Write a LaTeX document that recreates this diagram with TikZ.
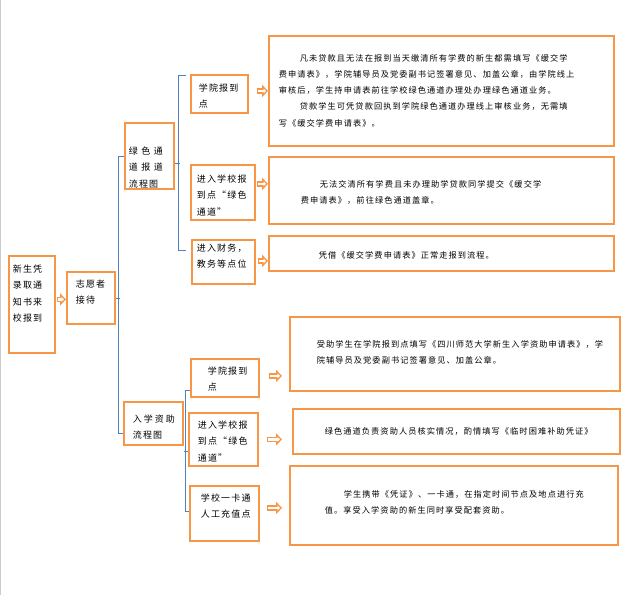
\documentclass[tikz,border=0pt]{standalone}
\usepackage{fontspec}
\newfontfamily\cjk[LetterSpace=13]{Noto Sans CJK SC}
\usetikzlibrary{arrows.meta}
\definecolor{boxorange}{HTML}{F79646}
\definecolor{linkblue}{HTML}{4F81BD}
\newcommand{\wgap}[1][3.5pt]{\kern#1}
\tikzset{
  box/.style={draw=boxorange, line width=1.8pt, anchor=north west, align=left, inner ysep=0pt},
  tag/.style={box, font=\cjk\fontsize{9}{16.5}\selectfont},
  note/.style={box, font=\cjk\fontsize{8.2}{16.3}\selectfont},
  fatout/.style={draw=boxorange, line width=5.6pt, -{Triangle[length=6pt, width=12.5pt, line width=0pt]}},
  fatin/.style={draw=white, line width=2.6pt, shorten <=1.4pt, shorten >=2pt, -{Triangle[length=2.4pt, width=5pt, line width=0pt]}},
  bracket/.style={draw=linkblue, line width=0.8pt}
}
\begin{document}
\begin{tikzpicture}[x=1pt, y=-1pt]
    \useasboundingbox (0,0) rectangle (630,595);
    \draw[gray!40, line width=1pt] (0.5,0) -- (0.5,595);

    % 左侧
    \node[tag, inner xsep=4pt, text width=38pt, text height=16.4pt, text depth=80.6pt] (reg) at (8,255) {新生凭\\录取通\\知书来\\校报到};
    \node[tag, inner xsep=9pt, text width=30pt, text height=15.4pt, text depth=36.6pt] (recv) at (66,271) {志愿者\\接待};

    % 两条流程
    \node[tag, inner xsep=4pt, text width=41pt, text height=31.4pt, text depth=34.6pt] (green) at (124,122) {绿\wgap 色\wgap 通\\道\wgap 报\wgap 道\\流程图};
    \node[tag, inner xsep=9pt, text width=41pt, text height=20.4pt, text depth=22.6pt] (aid) at (123,401) {入\wgap[2pt]学\wgap[2pt]资\wgap[2pt]助\\流程图};
    \draw[bracket] (recv.east) -- ++(4,0);
    \draw[bracket] (green.west) -- ++(-6,0) |- ([yshift=-10pt]aid.west);

    % 绿色通道报道流程
    \node[tag, inner xsep=8pt, text width=41pt, text height=16.4pt, text depth=21.6pt] (g1) at (190,74) {学院报到\\点};
    \node[tag, inner xsep=6pt, text width=52pt, text height=17.4pt, text depth=37.6pt] (g2) at (190,164) {进入学校报\\到点“绿色\\通道”};
    \node[tag, inner xsep=5pt, text width=53pt, text height=11.4pt, text depth=32.6pt] (g3) at (191,239) {进入财务，\\教务等点位};
    \draw[bracket] ([yshift=-7pt]green.east) -- ++(5,0);
    \draw[bracket] ([xshift=-4pt, yshift=-1pt]g1.north west) -- ++(-8,0) |- ([xshift=-5pt, yshift=-11pt]g3.north west);

    \node[note, inner xsep=10pt, text width=325pt, text height=25.1pt, text depth=84.9pt] (dA) at (268,35)
        {\hspace*{21pt}凡未贷款且无法在报到当天缴清所有学费的新生都需填写《缓交学\\
         费申请表》，学院辅导员及党委副书记签署意见、加盖公章，由学院线上\\
         审核后，学生持申请表前往学校绿色通道办理处办理绿色通道业务。\\
         \hspace*{21pt}贷款学生可凭贷款回执到学院绿色通道办理线上审核业务，无需填\\
         写《缓交学费申请表》。};
    \node[note, inner xsep=32pt, text width=281pt, text height=30.1pt, text depth=36.9pt] (dB) at (268,156)
        {\hspace*{19pt}无法交清所有学费且未办理助学贷款同学提交《缓交学\\
         费申请表》，前往绿色通道盖章。};
    \node[note, inner xsep=50pt, text width=245pt, text height=22.1pt, text depth=12.9pt] (dC) at (268,235)
        {凭借《缓交学费申请表》正常走报到流程。};

    % 入学资助流程
    \node[tag, inner xsep=17pt, text width=34pt, text height=15.4pt, text depth=22.6pt] (a1) at (190,358) {学院报到\\点};
    \node[tag, inner xsep=9pt, text width=51pt, text height=15.4pt, text depth=37.6pt] (a2) at (188,412) {进入学校报\\到点“绿色\\通道”};
    \node[tag, inner xsep=11pt, text width=47pt, text height=15.4pt, text depth=39.6pt] (a3) at (189,485) {学校一卡通\\人工充值点};
    \draw[bracket] ([yshift=-6pt]aid.south east) -- ++(4,0);
    \draw[bracket] ([yshift=7pt]a1.south west) -- ++(-5,0) |- ([yshift=-26pt]a3.north west);

    \node[note, inner xsep=27pt, text width=276pt, text height=30.1pt, text depth=43.9pt] (dD) at (289,316)
        {受助学生在学院报到点填写《四川师范大学新生入学资助申请表》，学\\
         院辅导员及党委副书记签署意见、加盖公章。};
    \node[note, inner xsep=32pt, text width=263pt, text height=25.1pt, text depth=19.9pt] (dE) at (292,408)
        {绿色通道负责资助人员核实情况，酌情填写《临时困难补助凭证》};
    \node[note, inner xsep=35pt, text width=258pt, text height=31.1pt, text depth=47.9pt] (dF) at (289,465)
        {\hspace*{19pt}学生携带《凭证》、一卡通，在指定时间节点及地点进行充\\
         值。享受入学资助的新生同时享受配套资助。};

    % 空心箭头
    \coordinate (r1) at ([xshift=1pt, yshift=5pt]reg.east);
    \coordinate (r2) at (r1 -| recv.west);
    \coordinate (s1) at ([xshift=8pt, yshift=3pt]g1.east);
    \coordinate (e1) at (s1 -| dA.west);
    \coordinate (s2) at ([xshift=1pt, yshift=8.5pt]g2.east);
    \coordinate (e2) at (s2 -| dB.west);
    \coordinate (s3) at ([xshift=2pt, yshift=1pt]g3.east);
    \coordinate (e3) at (s3 -| dC.west);
    \coordinate (s4) at ([xshift=9pt, yshift=2pt]a1.east);
    \path (s4 -| dD.west) ++(-7,0) coordinate (e4);
    \coordinate (s5) at ([xshift=8pt]a2.east);
    \path (s5 -| dE.west) ++(-10,0) coordinate (e5);
    \coordinate (s6) at ([xshift=7pt, yshift=5.5pt]a3.east);
    \path (s6 -| dF.west) ++(-7,0) coordinate (e6);
    \foreach \s/\e in {r1/r2, s1/e1, s2/e2, s3/e3, s4/e4, s5/e5, s6/e6} {
        \draw[fatout] (\s) -- (\e);
        \draw[fatin] (\s) -- (\e);
    }
\end{tikzpicture}
\end{document}
